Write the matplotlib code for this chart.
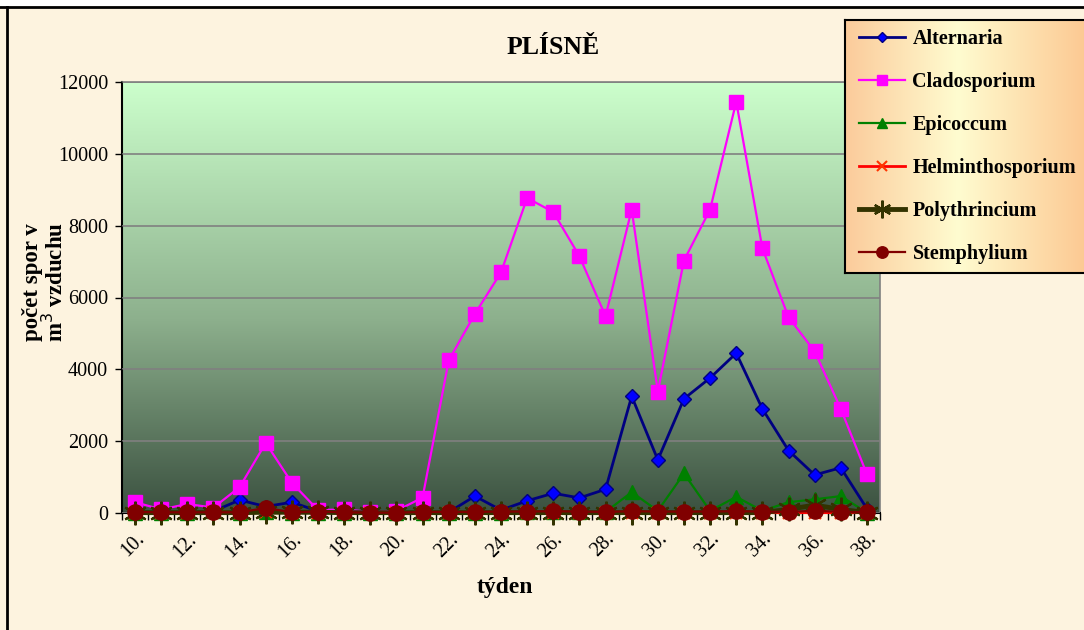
import numpy as np
import matplotlib
matplotlib.use("Agg")
import matplotlib.pyplot as plt
from matplotlib.colors import LinearSegmentedColormap
from matplotlib.patches import Rectangle

# ---------------- data ----------------
weeks = [f"{w}." for w in range(10, 39)]

alternaria = [20, 10, 10, 50, 360, 180, 300, 50, 10, 10, 10, 20, 20, 470, 80, 340,
              550, 420, 660, 3250, 1480, 3180, 3760, 4450, 2900, 1740, 1060, 1260, 120]
cladosporium = [300, 100, 250, 150, 720, 1950, 840, 80, 100, 30, 60, 430, 4250, 5540,
                6700, 8770, 8380, 7150, 5480, 8450, 3380, 7030, 8450, 11450, 7370,
                5450, 4500, 2900, 1080]
epicoccum = [10, 10, 10, 50, 10, 30, 10, 10, 10, 10, 10, 10, 10, 10, 10, 20,
             30, 30, 30, 580, 60, 1100, 60, 450, 60, 300, 380, 470, 10]
helminthosporium = [10, 10, 10, 40, 10, 20, 10, 10, 10, 10, 10, 10, 10, 10, 10, 10,
                    10, 10, 10, 10, 10, 10, 10, 10, 10, 10, 10, 10, 10]
polythrincium = [10, 10, 10, 10, 10, 20, 20, 20, 10, 10, 10, 10, 10, 10, 10, 10,
                 10, 10, 10, 10, 10, 10, 10, 10, 10, 100, 220, 100, 10]
stemphylium = [30, 20, 20, 20, 20, 140, 20, 40, 20, 10, 10, 30, 30, 30, 40, 40,
               50, 40, 30, 50, 40, 40, 40, 50, 40, 30, 60, 30, 20]

series = [
    ("Alternaria", alternaria, dict(color="#000080", marker="D", markersize=7,
                                    markerfacecolor="#0000FF", markeredgecolor="#000080", lw=2)),
    ("Cladosporium", cladosporium, dict(color="#FF00FF", marker="s", markersize=10.5,
                                        markerfacecolor="#FF00FF", markeredgecolor="#FF00FF", lw=1.6)),
    ("Epicoccum", epicoccum, dict(color="#008000", marker="^", markersize=10,
                                  markerfacecolor="#008000", markeredgecolor="#008000", lw=1.6)),
    ("Helminthosporium", helminthosporium, dict(color="#FF0000", marker="x", markersize=9,
                                                markeredgecolor="#FF3300", markeredgewidth=1.5, lw=2)),
    ("Polythrincium", polythrincium, dict(color="#333300", marker=(6, 2, 0), markersize=17,
                                          markeredgecolor="#333300", markeredgewidth=1.6, lw=3.5)),
    ("Stemphylium", stemphylium, dict(color="#800000", marker="o", markersize=11,
                                      markerfacecolor="#800000", markeredgecolor="#800000", lw=1.6)),
]

# ---------------- figure ----------------
plt.rcParams['font.family'] = ['Liberation Serif', 'DejaVu Serif']
fig = plt.figure(figsize=(10.84, 6.30), dpi=100)
fig.patch.set_facecolor("#FDF3DF")

# white strip above frame + frame lines
fig.patches.append(Rectangle((0, 1 - 6 / 630), 1, 6 / 630, transform=fig.transFigure,
                             facecolor="white", edgecolor="none", zorder=0))
fig.add_artist(plt.Line2D([0, 1], [1 - 7 / 630, 1 - 7 / 630], transform=fig.transFigure,
                          color="black", lw=2))
fig.add_artist(plt.Line2D([7 / 1084, 7 / 1084], [0, 1 - 7 / 630], transform=fig.transFigure,
                          color="black", lw=2))

ax = fig.add_axes([122 / 1084, 1 - 513 / 630, 758 / 1084, 431 / 630])

# gradient background of plot area
grad_cmap = LinearSegmentedColormap.from_list(
    "plotbg", [(0.0, "#3B5140"), (0.45, "#8DB08D"), (1.0, "#CCFFCC")])
g = np.linspace(0, 1, 256).reshape(-1, 1)
ax.imshow(g, cmap=grad_cmap, aspect="auto", extent=[0, 1, 0, 1], origin="lower",
          transform=ax.transAxes, zorder=0)

x = np.arange(len(weeks))
handles = []
for name, vals, st in series:
    h, = ax.plot(x, vals, label=name, zorder=3, clip_on=False, **st)
    handles.append(h)

ax.set_xlim(-0.5, len(weeks) - 0.5)
ax.set_ylim(0, 12000)
ax.set_yticks(range(0, 12001, 2000))
ax.set_yticklabels([str(v) for v in range(0, 12001, 2000)], fontsize=14.5)
ax.yaxis.grid(True, color="#808080", lw=1.2, zorder=1)
ax.set_axisbelow(False)

ax.set_xticks(x[::2])
ax.set_xticklabels(weeks[::2], rotation=45, ha="right", rotation_mode="anchor", fontsize=14.5)
ax.set_xticks(np.arange(-0.5, len(weeks)), minor=True)
ax.tick_params(axis="x", which="major", length=0, pad=12)
ax.tick_params(axis="x", which="minor", length=5, direction="out", width=1)
ax.tick_params(axis="y", length=5, direction="out", width=1, pad=5)

for s in ["top", "right"]:
    ax.spines[s].set_color("#808080")
    ax.spines[s].set_linewidth(1.2)
for s in ["left", "bottom"]:
    ax.spines[s].set_color("black")
    ax.spines[s].set_linewidth(1.5)

fig.text(553 / 1084, 1 - 47 / 630, "PLÍSNĚ", ha="center", va="center",
         fontsize=18.5, fontweight="bold")
fig.text(505 / 1084, 1 - 588 / 630, "týden", ha="center", va="center",
         fontsize=17, fontweight="bold")
fig.text(45 / 1084, 1 - 282 / 630, "počet spor v\nm$^3$ vzduchu", ha="center", va="center",
         rotation=90, fontsize=16.5, fontweight="bold", linespacing=1.0)

# legend box with horizontal gradient
lax = fig.add_axes([845 / 1084, 1 - 273 / 630, 250 / 1084, 253 / 630])
leg_cmap = LinearSegmentedColormap.from_list(
    "legbg", [(0.0, "#FBCB9B"), (0.45, "#FFFCD0"), (1.0, "#FCC58E")])
lax.imshow(np.linspace(0, 1, 256).reshape(1, -1), cmap=leg_cmap, aspect="auto",
           extent=[0, 1, 0, 1], transform=lax.transAxes)
lax.set_xticks([])
lax.set_yticks([])
for s in lax.spines.values():
    s.set_color("black")
    s.set_linewidth(1.5)
lax.legend(handles, [h.get_label() for h in handles], loc="center left",
           bbox_to_anchor=(0.0, 0.5), frameon=False, handlelength=2.3, markerscale=0.75,
           labelspacing=1.15, handletextpad=0.35, borderaxespad=0.3,
           prop={"family": "Liberation Serif", "weight": "bold", "size": 14.5})

fig.savefig("out.png", dpi=100, facecolor=fig.get_facecolor())
